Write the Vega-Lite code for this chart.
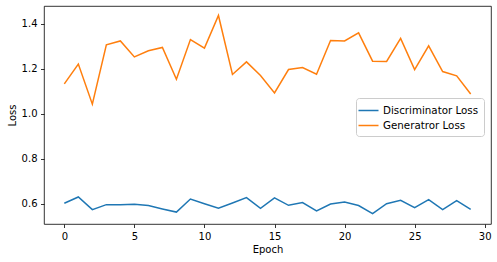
{
  "$schema": "https://vega.github.io/schema/vega-lite/v6.json",
  "width": 447,
  "height": 218,
  "autosize": {"type": "none"},
  "padding": {"left": 44, "top": 6, "right": 6, "bottom": 38},
  "background": "white",
  "config": {
    "font": "DejaVu Sans",
    "view": {"stroke": "#000000", "strokeWidth": 0.8},
    "axis": {
      "grid": false,
      "domain": false,
      "tickColor": "#000000",
      "tickWidth": 0.8,
      "tickSize": 3.5,
      "labelFont": "DejaVu Sans",
      "labelFontSize": 10,
      "labelColor": "#000000",
      "labelPadding": 3.5,
      "titleFont": "DejaVu Sans",
      "titleFontSize": 10,
      "titleFontWeight": "normal",
      "titleColor": "#000000"
    }
  },
  "data": {
    "values": [
      {"epoch": 0, "series": "Discriminator Loss", "loss": 0.603},
      {"epoch": 1, "series": "Discriminator Loss", "loss": 0.631},
      {"epoch": 2, "series": "Discriminator Loss", "loss": 0.575},
      {"epoch": 3, "series": "Discriminator Loss", "loss": 0.597},
      {"epoch": 4, "series": "Discriminator Loss", "loss": 0.597},
      {"epoch": 5, "series": "Discriminator Loss", "loss": 0.599},
      {"epoch": 6, "series": "Discriminator Loss", "loss": 0.593},
      {"epoch": 7, "series": "Discriminator Loss", "loss": 0.578},
      {"epoch": 8, "series": "Discriminator Loss", "loss": 0.564},
      {"epoch": 9, "series": "Discriminator Loss", "loss": 0.622},
      {"epoch": 10, "series": "Discriminator Loss", "loss": 0.601},
      {"epoch": 11, "series": "Discriminator Loss", "loss": 0.581},
      {"epoch": 12, "series": "Discriminator Loss", "loss": 0.604},
      {"epoch": 13, "series": "Discriminator Loss", "loss": 0.628},
      {"epoch": 14, "series": "Discriminator Loss", "loss": 0.581},
      {"epoch": 15, "series": "Discriminator Loss", "loss": 0.627},
      {"epoch": 16, "series": "Discriminator Loss", "loss": 0.594},
      {"epoch": 17, "series": "Discriminator Loss", "loss": 0.606},
      {"epoch": 18, "series": "Discriminator Loss", "loss": 0.569},
      {"epoch": 19, "series": "Discriminator Loss", "loss": 0.600},
      {"epoch": 20, "series": "Discriminator Loss", "loss": 0.609},
      {"epoch": 21, "series": "Discriminator Loss", "loss": 0.593},
      {"epoch": 22, "series": "Discriminator Loss", "loss": 0.557},
      {"epoch": 23, "series": "Discriminator Loss", "loss": 0.601},
      {"epoch": 24, "series": "Discriminator Loss", "loss": 0.616},
      {"epoch": 25, "series": "Discriminator Loss", "loss": 0.584},
      {"epoch": 26, "series": "Discriminator Loss", "loss": 0.619},
      {"epoch": 27, "series": "Discriminator Loss", "loss": 0.575},
      {"epoch": 28, "series": "Discriminator Loss", "loss": 0.615},
      {"epoch": 29, "series": "Discriminator Loss", "loss": 0.576},
      {"epoch": 0, "series": "Generatror Loss", "loss": 1.133},
      {"epoch": 1, "series": "Generatror Loss", "loss": 1.221},
      {"epoch": 2, "series": "Generatror Loss", "loss": 1.043},
      {"epoch": 3, "series": "Generatror Loss", "loss": 1.307},
      {"epoch": 4, "series": "Generatror Loss", "loss": 1.324},
      {"epoch": 5, "series": "Generatror Loss", "loss": 1.253},
      {"epoch": 6, "series": "Generatror Loss", "loss": 1.280},
      {"epoch": 7, "series": "Generatror Loss", "loss": 1.295},
      {"epoch": 8, "series": "Generatror Loss", "loss": 1.154},
      {"epoch": 9, "series": "Generatror Loss", "loss": 1.330},
      {"epoch": 10, "series": "Generatror Loss", "loss": 1.292},
      {"epoch": 11, "series": "Generatror Loss", "loss": 1.437},
      {"epoch": 12, "series": "Generatror Loss", "loss": 1.175},
      {"epoch": 13, "series": "Generatror Loss", "loss": 1.231},
      {"epoch": 14, "series": "Generatror Loss", "loss": 1.170},
      {"epoch": 15, "series": "Generatror Loss", "loss": 1.093},
      {"epoch": 16, "series": "Generatror Loss", "loss": 1.197},
      {"epoch": 17, "series": "Generatror Loss", "loss": 1.206},
      {"epoch": 18, "series": "Generatror Loss", "loss": 1.176},
      {"epoch": 19, "series": "Generatror Loss", "loss": 1.326},
      {"epoch": 20, "series": "Generatror Loss", "loss": 1.324},
      {"epoch": 21, "series": "Generatror Loss", "loss": 1.360},
      {"epoch": 22, "series": "Generatror Loss", "loss": 1.234},
      {"epoch": 23, "series": "Generatror Loss", "loss": 1.233},
      {"epoch": 24, "series": "Generatror Loss", "loss": 1.335},
      {"epoch": 25, "series": "Generatror Loss", "loss": 1.197},
      {"epoch": 26, "series": "Generatror Loss", "loss": 1.302},
      {"epoch": 27, "series": "Generatror Loss", "loss": 1.188},
      {"epoch": 28, "series": "Generatror Loss", "loss": 1.169},
      {"epoch": 29, "series": "Generatror Loss", "loss": 1.088}
    ]
  },
  "mark": {"type": "line", "strokeWidth": 1.5, "clip": true},
  "encoding": {
    "x": {
      "field": "epoch",
      "type": "quantitative",
      "title": "Epoch",
      "scale": {"domain": [-1.45, 30.45], "nice": false, "zero": false},
      "axis": {"values": [0, 5, 10, 15, 20, 25, 30], "format": "d", "titlePadding": 3}
    },
    "y": {
      "field": "loss",
      "type": "quantitative",
      "title": "Loss",
      "scale": {"domain": [0.511, 1.479], "nice": false, "zero": false},
      "axis": {"values": [0.6, 0.8, 1.0, 1.2, 1.4], "format": ".1f", "titlePadding": 4}
    },
    "color": {
      "field": "series",
      "type": "nominal",
      "scale": {"domain": ["Discriminator Loss", "Generatror Loss"], "range": ["#1f77b4", "#ff7f0e"]},
      "legend": {
        "title": null,
        "orient": "none",
        "legendX": 312,
        "legendY": 92,
        "padding": 5,
        "fillColor": "rgba(255,255,255,0.8)",
        "strokeColor": "#cccccc",
        "cornerRadius": 3,
        "symbolType": "M-1.5,0H1.5",
        "symbolSize": 178,
        "symbolStrokeWidth": 1.5,
        "labelFont": "DejaVu Sans",
        "labelFontSize": 10.3,
        "labelColor": "#000000",
        "labelOffset": 7,
        "rowPadding": 2
      }
    }
  }
}
